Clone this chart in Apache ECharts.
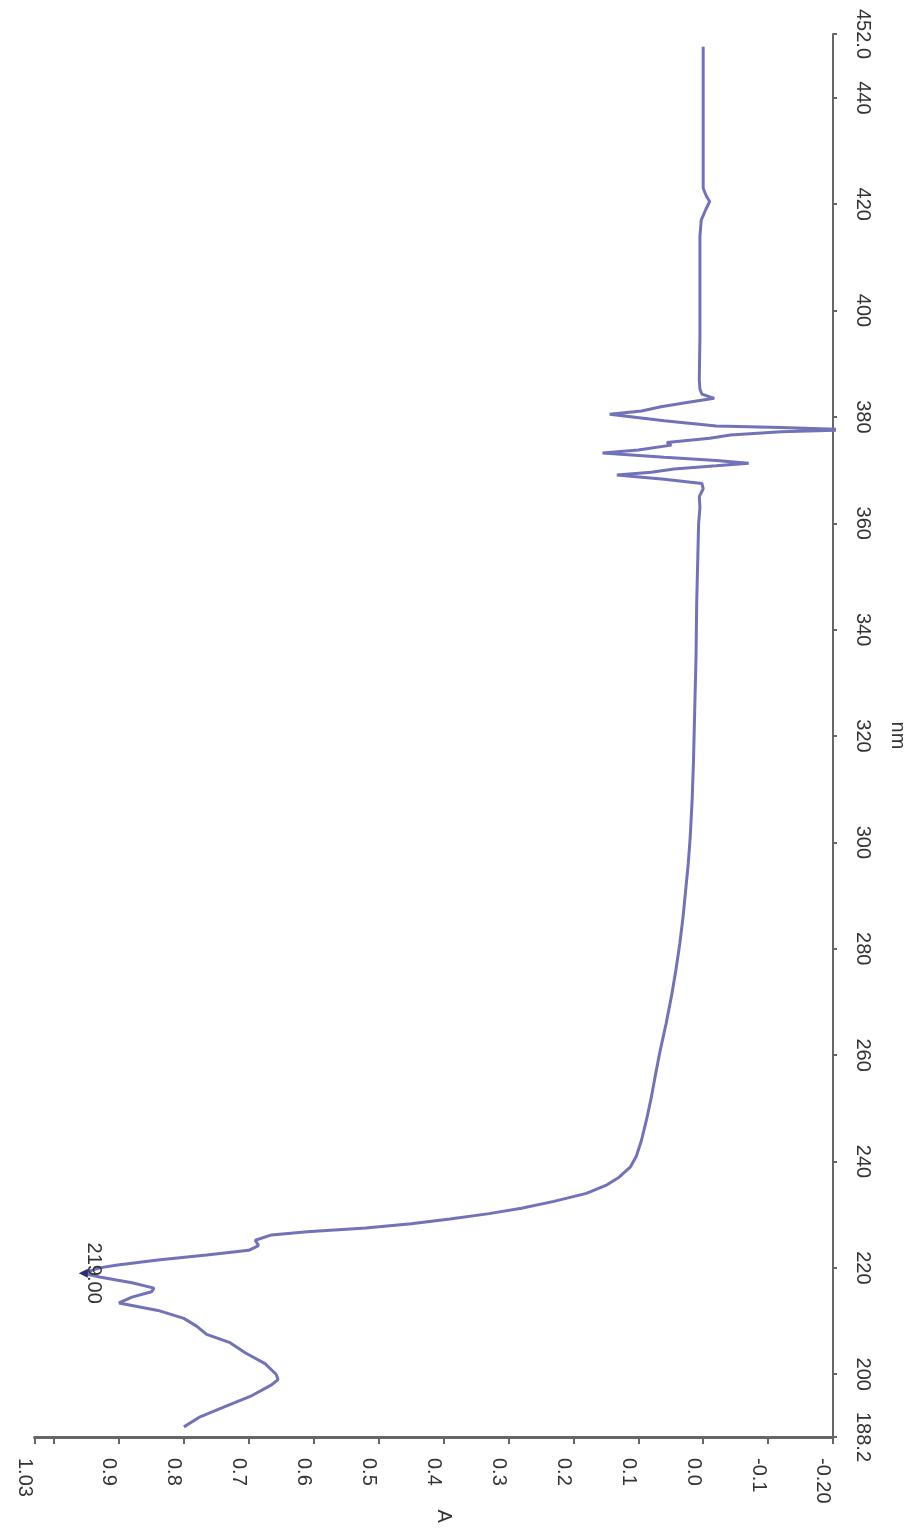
<!DOCTYPE html>
<html>
<head>
<meta charset="utf-8">
<script src="https://cdn.jsdelivr.net/npm/echarts@6/dist/echarts.min.js"></script>
<style>
  html, body { margin: 0; padding: 0; background: #ffffff; }
  #chart { width: 916px; height: 1533px; }
</style>
</head>
<body>
<div id="chart"></div>
<script>
// UV-Vis absorbance spectrum, drawn on its side: wavelength runs up the right axis,
// absorbance runs right-to-left along the bottom axis.
const wavelengthNm = [
  190.1, 192, 194, 196, 198, 199, 200, 202, 204, 206, 207.5, 209, 210.5, 212, 213.4,
  214.5, 215.5, 216.2, 217.2, 218.3, 219.0, 220.0, 220.5, 221.5, 222.4, 223.3, 224.2,
  225.2, 226.2, 226.8, 227.5, 228.3, 229.2, 230.2, 231.2, 232.5, 234, 235.5, 237, 239,
  241, 244, 248, 252, 256, 261, 266, 271, 276, 281, 286, 291, 296, 301, 308, 315, 325,
  335, 345, 355, 360, 363, 365, 366.5, 367.5, 368.3, 369.1, 369.6, 370.2, 370.8, 371.3,
  371.8, 372.4, 373.2, 373.8, 374.7, 375.2, 376.0, 376.6, 377.2, 377.6, 378.0, 378.3,
  379.3, 380.5, 381.1, 381.9, 382.7, 383.5, 384.3, 385.2, 387, 395, 405, 414, 417, 419,
  420.5, 421.5, 423, 430, 440, 449.6
];
const absorbance = [
  0.800, 0.775, 0.735, 0.695, 0.665, 0.655, 0.658, 0.675, 0.705, 0.730, 0.765, 0.780, 0.800, 0.840, 0.900,
  0.880, 0.850, 0.846, 0.880, 0.930, 0.955, 0.930, 0.905, 0.840, 0.765, 0.700, 0.685,
  0.690, 0.665, 0.610, 0.520, 0.450, 0.390, 0.330, 0.280, 0.230, 0.180, 0.150, 0.130, 0.112,
  0.103, 0.095, 0.087, 0.080, 0.074, 0.066, 0.057, 0.049, 0.042, 0.036, 0.031, 0.027, 0.023, 0.020, 0.017, 0.015, 0.013,
  0.011, 0.010, 0.008, 0.007, 0.005, 0.006, 0.000, 0.002, 0.060, 0.133, 0.080, 0.045, -0.020, -0.070,
  -0.020, 0.060, 0.155, 0.100, 0.049, 0.056, -0.010, -0.042, -0.120, -0.230, -0.120, -0.020,
  0.060, 0.144, 0.095, 0.065, 0.025, -0.017, 0.002, 0.005, 0.006, 0.005, 0.005, 0.005, 0.003, -0.004,
  -0.010, -0.005, 0.000, 0.000, 0.000, 0.000
];
// Tick positions and labels
const absTicks = [1.03, 1.0, 0.9, 0.8, 0.7, 0.6, 0.5, 0.4, 0.3, 0.2, 0.1, 0.0, -0.1, -0.2];
const absLabels = [1.03, 0.9, 0.8, 0.7, 0.6, 0.5, 0.4, 0.3, 0.2, 0.1, 0.0, -0.1, -0.2];
const nmTicks = [188.2, 200, 220, 240, 260, 280, 300, 320, 340, 360, 380, 400, 420, 440, 452.0];
// Annotated peak
const peakNm = 219.0;
const peakAbs = 0.955;
const peakText = '219.00';

const FONT = "'Liberation Sans', Arial, sans-serif";
const LINE = '#7272b8';
const AXIS = '#666666';
const TEXT = '#333333';

function absFormat(v) {
  if (Math.abs(v - 1.03) < 1e-6) return '1.03';
  if (Math.abs(v + 0.2) < 1e-6) return '-0.20';
  return v.toFixed(1);
}
function nmFormat(v) {
  if (Math.abs(v - 188.2) < 1e-6) return '188.2';
  if (Math.abs(v - 452) < 1e-6) return '452.0';
  return String(Math.round(v));
}

const points = wavelengthNm.map((nm, i) => [absorbance[i], nm]);

const chart = echarts.init(document.getElementById('chart'), null, { renderer: 'canvas' });
chart.setOption({
  backgroundColor: '#ffffff',
  animation: false,
  grid: { left: 34.6, right: 75.7, top: 34, bottom: 96 },
  xAxis: {
    type: 'value',
    inverse: true,
    min: -0.2,
    max: 1.03,
    name: 'A',
    nameLocation: 'middle',
    nameGap: 67,
    nameRotate: -90,
    nameTextStyle: { fontFamily: FONT, fontSize: 20, color: TEXT, verticalAlign: 'bottom' },
    splitLine: { show: false },
    axisLine: { show: true, onZero: false, lineStyle: { color: AXIS, width: 3 } },
    axisTick: { show: true, length: 7, customValues: absTicks, lineStyle: { color: AXIS, width: 2 } },
    axisLabel: {
      customValues: absLabels,
      rotate: -90,
      margin: 21,
      verticalAlign: 'top',
      fontFamily: FONT,
      fontSize: 20,
      color: TEXT,
      formatter: absFormat
    }
  },
  yAxis: {
    type: 'value',
    position: 'right',
    min: 188.2,
    max: 452.0,
    name: 'nm',
    nameLocation: 'middle',
    nameGap: 55,
    nameRotate: -90,
    nameTextStyle: { fontFamily: FONT, fontSize: 20, color: TEXT },
    splitLine: { show: false },
    axisLine: { show: true, onZero: false, lineStyle: { color: AXIS, width: 2 } },
    axisTick: { show: true, length: 4, customValues: nmTicks, lineStyle: { color: AXIS, width: 2 } },
    axisLabel: {
      customValues: nmTicks,
      rotate: -90,
      margin: 20,
      fontFamily: FONT,
      fontSize: 20,
      color: TEXT,
      formatter: nmFormat
    }
  },
  series: [{
    type: 'line',
    data: points,
    showSymbol: false,
    smooth: false,
    clip: true,
    lineStyle: { color: LINE, width: 3 },
    markPoint: {
      symbol: 'triangle',
      symbolSize: 9,
      symbolRotate: 90,
      itemStyle: { color: '#2c2c74' },
      data: [{
        coord: [peakAbs, peakNm],
        label: {
          show: true,
          formatter: peakText,
          position: 'inside',
          rotate: -90,
          align: 'center',
          verticalAlign: 'bottom',
          offset: [0, 0],
          fontFamily: FONT,
          fontSize: 20,
          color: TEXT
        }
      }]
    }
  }]
});
</script>
</body>
</html>
